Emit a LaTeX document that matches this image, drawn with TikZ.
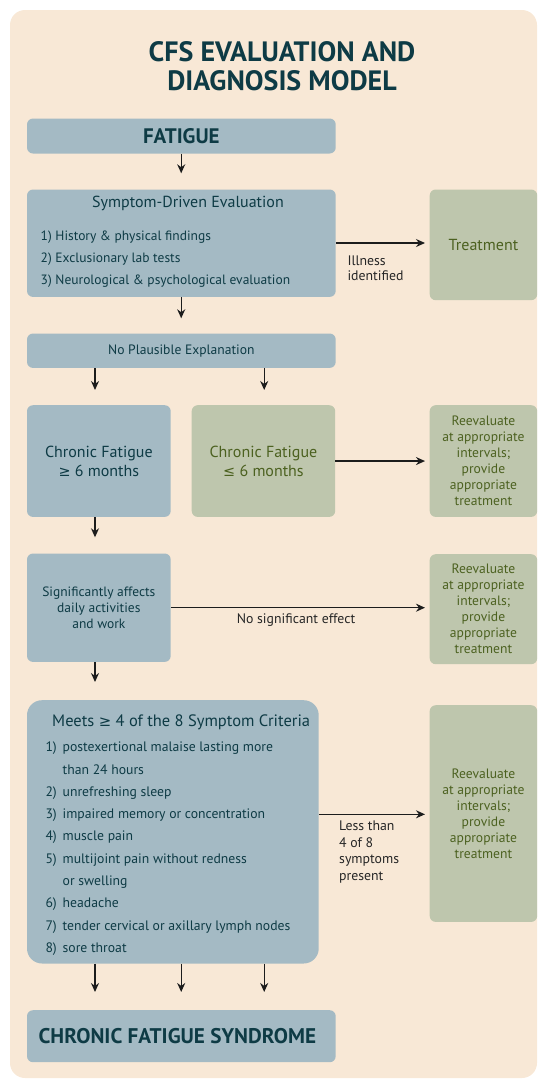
\documentclass[tikz,border=0pt]{standalone}
\usepackage{fontspec}
\setmainfont{PT Sans}
\newfontfamily\symfont[Scale=0.9]{DejaVu Sans}
\usetikzlibrary{arrows.meta}

\definecolor{bgbeige}{HTML}{F8E8D6}
\definecolor{boxblue}{HTML}{A4BAC4}
\definecolor{boxgreen}{HTML}{BEC6AD}
\definecolor{darkteal}{HTML}{0E3B45}
\definecolor{olivetext}{HTML}{4C6120}
\definecolor{arrowgray}{HTML}{1C1C1C}

\newcommand{\gesym}{{\symfont ≥}}
\newcommand{\lesym}{{\symfont ≤}}

\tikzset{
  bluebox/.style={fill=boxblue, rounded corners=6pt, anchor=north west,
    inner sep=0pt, text=darkteal, align=center},
  greenbox/.style={fill=boxgreen, rounded corners=6pt, anchor=north west,
    inner sep=0pt, text=olivetext, align=center},
  arr/.style={draw=arrowgray, line width=1.3pt, -{Stealth[length=9pt,width=8pt]}},
  lbl/.style={anchor=north west, inner sep=0pt, align=left, text=black!85,
    font=\fontsize{13.8}{16.5}\selectfont},
  reeval/.style={font=\fontsize{13.6}{16}\selectfont}
}

\begin{document}
\begin{tikzpicture}[x=1pt,y=-1pt]
      % page and background
      \path[use as bounding box] (0,0) rectangle (538,1079);
      \fill[bgbeige, rounded corners=15pt] (10,10) rectangle (537,1078);

      % title
      \node[text=darkteal, align=center, font=\bfseries\fontsize{28}{28.5}\selectfont] (title)
        at (282,66) {CFS EVALUATION AND\\DIAGNOSIS MODEL};

      % left column
      \node[bluebox, minimum width=308.7pt, minimum height=35pt,
        font=\bfseries\fontsize{21}{24}\selectfont] (fatigue) at (26.8,118.3) {FATIGUE};
      \node[bluebox, minimum width=308.7pt, minimum height=107.4pt] (sde) at (26.8,189.3) {};
      \node[text=darkteal, font=\fontsize{16}{20}\selectfont] (sdetitle) at (188,203.3)
        {Symptom-Driven Evaluation};
      \node[anchor=north west, inner sep=0pt, align=left, text=darkteal,
        font=\fontsize{13.5}{22.3}\selectfont] (sdelist) at (40.5,230.3)
        {1) History \& physical findings\\
         2) Exclusionary lab tests\\
         3) Neurological \& psychological evaluation};
      \node[bluebox, minimum width=308.7pt, minimum height=34.4pt,
        font=\fontsize{13.6}{17}\selectfont] (np) at (26.8,333.3) {No Plausible Explanation};
      \node[bluebox, minimum width=143.7pt, minimum height=111.7pt,
        font=\fontsize{16}{19}\selectfont] (cfl) at (26.8,405) {Chronic Fatigue\\\gesym\ 6 months};
      \node[greenbox, minimum width=143.5pt, minimum height=111.7pt,
        font=\fontsize{16}{19}\selectfont] (cfs) at (191.5,405) {Chronic Fatigue\\\lesym\ 6 months};
      \node[bluebox, minimum width=143.7pt, minimum height=108.4pt,
        font=\fontsize{13.5}{16}\selectfont] (sig) at (26.8,553.3)
        {Significantly affects\\daily activities\\and work};
      \node[bluebox, rounded corners=15pt, minimum width=291.7pt, minimum height=263.3pt] (crit)
        at (26.8,700) {};
      \node[anchor=north west, inner sep=0pt, text=darkteal,
        font=\fontsize{16.5}{20}\selectfont] (crittitle) at (52,715)
        {Meets \gesym\ 4 of the 8 Symptom Criteria};
      \node[anchor=north west, inner sep=0pt, align=left, text=darkteal,
        font=\fontsize{13.7}{22.3}\selectfont] (critlist) at (45.3,741.8)
        {\makebox[17.2pt][l]{1)}postexertional malaise lasting more\\
         \hspace*{17.2pt}than 24 hours\\
         \makebox[17.2pt][l]{2)}unrefreshing sleep\\
         \makebox[17.2pt][l]{3)}impaired memory or concentration\\
         \makebox[17.2pt][l]{4)}muscle pain\\
         \makebox[17.2pt][l]{5)}multijoint pain without redness\\
         \hspace*{17.2pt}or swelling\\
         \makebox[17.2pt][l]{6)}headache\\
         \makebox[17.2pt][l]{7)}tender cervical or axillary lymph nodes\\
         \makebox[17.2pt][l]{8)}sore throat};
      \node[bluebox, minimum width=308.7pt, minimum height=52pt] (syndrome) at (26.8,1010) {};
      \node[anchor=west, inner sep=0pt, text=darkteal,
        font=\bfseries\fontsize{21.2}{26}\selectfont] (syndtext) at (38.4,1036)
        {CHRONIC FATIGUE SYNDROME};

      % right column
      \node[greenbox, minimum width=107.5pt, minimum height=110.7pt,
        font=\fontsize{16}{20}\selectfont] (treat) at (429.5,189.3) {Treatment};
      \node[greenbox, reeval, minimum width=107.5pt, minimum height=111.7pt] (re1) at (429.5,405)
        {Reevaluate\\at appropriate\\intervals;\\provide\\appropriate\\treatment};
      \node[greenbox, reeval, minimum width=107.5pt, minimum height=110pt] (re2) at (429.5,554)
        {Reevaluate\\at appropriate\\intervals;\\provide\\appropriate\\treatment};
      \node[greenbox, reeval, minimum width=107.5pt, minimum height=216.7pt] (re3) at (429.5,705)
        {Reevaluate\\at appropriate\\intervals;\\provide\\appropriate\\treatment};

      % connector labels
      \node[lbl, font=\fontsize{13.8}{15}\selectfont] (illness) at (347.3,256) {Illness\\identified};
      \node[text=black!85, font=\fontsize{13.8}{16}\selectfont] (nosig) at (296,620)
        {No significant effect};
      \node[lbl] (lessthan) at (339,821) {Less than\\4 of 8\\symptoms\\present};

      % arrow columns
      \coordinate (xl) at (95,0);
      \coordinate (xm) at (181.2,0);
      \coordinate (xr) at (264.2,0);

      % connectors
      \draw[arr, shorten >=16pt] (fatigue.south -| xm) -- (sde.north -| xm);
      \draw[arr, shorten >=15pt] (sde.south -| xm) -- (np.north -| xm);
      \draw[arr, shorten >=15pt] (np.south -| xl) -- (cfl.north -| xl);
      \draw[arr, shorten >=15pt] (np.south -| xr) -- (cfs.north -| xr);
      \draw[arr, shorten >=16pt] (cfl.south -| xl) -- (sig.north -| xl);
      \draw[arr, shorten >=18pt] (sig.south -| xl) -- (crit.north -| xl);
      \draw[arr, shorten >=18pt] (crit.south -| xl) -- (syndrome.north -| xl);
      \draw[arr, shorten >=18pt] (crit.south -| xm) -- (syndrome.north -| xm);
      \draw[arr, shorten >=18pt] (crit.south -| xr) -- (syndrome.north -| xr);
      \draw[arr, shorten >=4.5pt] (sde.east |- 0,243) -- (treat.west |- 0,243);
      \draw[arr, shorten >=4.5pt] (cfs.east) -- (re1.west |- cfs.east);
      \draw[arr, shorten >=4.5pt] (sig.east |- 0,607.7) -- (re2.west |- 0,607.7);
      \draw[arr, shorten >=4.5pt] (crit.east |- 0,814.3) -- (re3.west |- 0,814.3);

\end{tikzpicture}
\end{document}
